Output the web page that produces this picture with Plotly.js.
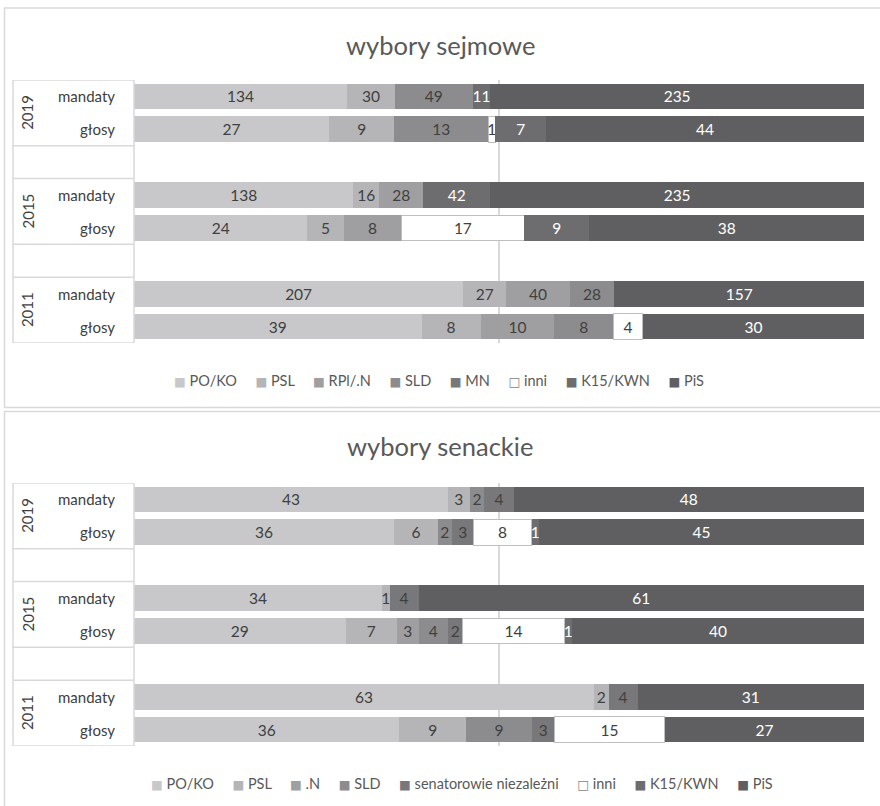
<!DOCTYPE html>
<html>
<head>
<meta charset="utf-8">
<script src="https://cdn.plot.ly/plotly-3.0.1.min.js"></script>
<style>
  html, body { margin: 0; padding: 0; background: #fff; }
  #chart { width: 880px; height: 806px; }
</style>
</head>
<body>
<div id="chart"></div>
<script>
// ---- DATA ----
const years = ['2019', '2015', '2011'];
const rowLabels = ['mandaty', 'głosy', '', 'mandaty', 'głosy', '', 'mandaty', 'głosy'];

// Sejm (wybory sejmowe)
const sejmSeries = ['PO/KO', 'PSL', 'RPl/.N', 'SLD', 'MN', 'inni', 'K15/KWN', 'PiS'];
const sejm_PO   = [134, 27, null, 138, 24, null, 207, 39];
const sejm_PSL  = [30, 9, null, 16, 5, null, 27, 8];
const sejm_RPl  = [null, null, null, 28, 8, null, 40, 10];
const sejm_SLD  = [49, 13, null, null, null, null, 28, 8];
const sejm_MN   = [null, null, null, null, null, null, null, null];
const sejm_inni = [null, 1, null, null, 17, null, null, 4];
const sejm_K15  = [11, 7, null, 42, 9, null, null, null];
const sejm_PiS  = [235, 44, null, 235, 38, null, 157, 30];

// Senat (wybory senackie)
const senatSeries = ['PO/KO', 'PSL', '.N', 'SLD', 'senatorowie niezależni', 'inni', 'K15/KWN', 'PiS'];
const senat_PO   = [43, 36, null, 34, 29, null, 63, 36];
const senat_PSL  = [3, 6, null, 1, 7, null, 2, 9];
const senat_N    = [null, null, null, null, 3, null, null, null];
const senat_SLD  = [2, 2, null, null, 4, null, null, 9];
const senat_niez = [4, 3, null, 4, 2, null, 4, 3];
const senat_inni = [null, 8, null, null, 14, null, null, 15];
const senat_K15  = [null, 1, null, null, 1, null, null, null];
const senat_PiS  = [48, 45, null, 61, 40, null, 31, 27];

// ---- STYLE ----
const fills = ['#c8c8ca', '#b5b5b7', '#9f9fa1', '#8c8c8e', '#78787a', '#ffffff', '#6d6d70', '#5f5f62'];
const textCols = ['#404040', '#404040', '#404040', '#404040', '#404040', '#404040', '#ffffff', '#ffffff'];
const FONT = 'Lato, "Open Sans", sans-serif';
const GRID = '#d9d9d9';

const rowIdx = rowLabels.map((_, i) => i);

function makeTraces(names, data, xa, ya) {
  return names.map((name, k) => ({
    type: 'bar',
    orientation: 'h',
    name: name,
    x: data[k],
    y: rowIdx,
    xaxis: xa,
    yaxis: ya,
    text: data[k].map(v => v == null ? '' : String(v)),
    textposition: 'inside',
    insidetextanchor: 'middle',
    constraintext: 'none',
    textangle: 0,
    textfont: { family: FONT, size: 15.5, color: textCols[k] },
    marker: {
      color: fills[k],
      line: { color: k === 5 ? '#bfbfbf' : fills[k], width: k === 5 ? 1 : 0 }
    },
    width: 0.78,
    showlegend: false,
    hoverinfo: 'skip'
  }));
}

const traces = [].concat(
  makeTraces(sejmSeries, [sejm_PO, sejm_PSL, sejm_RPl, sejm_SLD, sejm_MN, sejm_inni, sejm_K15, sejm_PiS], 'x', 'y'),
  makeTraces(senatSeries, [senat_PO, senat_PSL, senat_N, senat_SLD, senat_niez, senat_inni, senat_K15, senat_PiS], 'x2', 'y2')
);

// ---- LAYOUT ----
const W = 880, H = 806;
const px = v => v / W;          // x pixel -> paper
const py = v => 1 - v / H;      // y pixel -> paper

const xDom = [px(134), px(864)];
const topDom = [py(343), py(80)];
const botDom = [py(746), py(483)];

function xaxisDef(anchor) {
  return {
    domain: xDom, range: [0, 100], anchor: anchor,
    showgrid: true, gridcolor: GRID, gridwidth: 1.5, dtick: 50, tick0: 0,
    showticklabels: false, zeroline: false, showline: false, ticks: '', fixedrange: true
  };
}
function yaxisDef(dom, anchor) {
  return {
    domain: dom, range: [rowLabels.length - 0.5, -0.5], anchor: anchor,
    showgrid: false, showticklabels: false, zeroline: false, showline: false, ticks: '', fixedrange: true
  };
}

const shapes = [];
const annotations = [];

// panel frames
shapes.push({ type: 'rect', xref: 'paper', yref: 'paper', x0: px(4.5), x1: px(890), y0: py(407.5), y1: py(8),
  line: { color: GRID, width: 1.5 }, fillcolor: 'rgba(0,0,0,0)' });
shapes.push({ type: 'rect', xref: 'paper', yref: 'paper', x0: px(4.5), x1: px(890), y0: py(820), y1: py(411.5),
  line: { color: GRID, width: 1.5 }, fillcolor: 'rgba(0,0,0,0)' });

function categoryFrame(yr) {
  const boxL = px(13), boxR = px(134);
  const n = rowLabels.length;
  [boxL, boxR].forEach(xv => shapes.push({ type: 'line', xref: 'paper', yref: yr,
    x0: xv, x1: xv, y0: -0.5, y1: n - 0.5, line: { color: GRID, width: 1.5 } }));
  const seps = [-0.5];
  rowLabels.forEach((lab, i) => {
    if (lab === '') { seps.push(i - 0.5); seps.push(i + 0.5); }
  });
  seps.push(n - 0.5);
  seps.forEach(yv => shapes.push({ type: 'line', xref: 'paper', yref: yr,
    x0: boxL, x1: boxR, y0: yv, y1: yv, line: { color: GRID, width: 1.5 } }));
  rowLabels.forEach((lab, i) => {
    if (lab !== '') annotations.push({ xref: 'paper', yref: yr, x: px(117), y: i, text: lab,
      xanchor: 'right', yanchor: 'middle', showarrow: false,
      font: { family: FONT, size: 15, color: '#404040' } });
  });
  let g = 0;
  for (let i = 0; i < n; i += 3) {
    annotations.push({ xref: 'paper', yref: yr, x: px(27), y: i + 0.5, text: years[g++],
      textangle: -90, xanchor: 'center', yanchor: 'middle', showarrow: false,
      font: { family: FONT, size: 15, color: '#404040' } });
  }
}
categoryFrame('y');
categoryFrame('y2');

// titles
annotations.push({ xref: 'paper', yref: 'paper', x: 0.5, y: py(45), text: 'wybory sejmowe',
  showarrow: false, xanchor: 'center', yanchor: 'middle', font: { family: FONT, size: 25.5, color: '#595959' } });
annotations.push({ xref: 'paper', yref: 'paper', x: 0.5, y: py(446), text: 'wybory senackie',
  showarrow: false, xanchor: 'center', yanchor: 'middle', font: { family: FONT, size: 25.5, color: '#595959' } });

// legends
function legendText(names) {
  const gap = '\u00a0'.repeat(5);
  return names.map((nm, k) => {
    const sym = k === 5
      ? '<span style="color:#7f7f7f;font-family:\'DejaVu Sans\';font-size:12.5px">□</span>'
      : `<span style="color:${fills[k]};font-family:'DejaVu Sans';font-size:12.5px">■</span>`;
    return sym + '\u00a0' + nm;
  }).join(gap);
}
annotations.push({ xref: 'paper', yref: 'paper', x: px(439), y: py(380), text: legendText(sejmSeries),
  showarrow: false, xanchor: 'center', yanchor: 'middle', font: { family: FONT, size: 14.5, color: '#595959' } });
annotations.push({ xref: 'paper', yref: 'paper', x: px(462), y: py(783), text: legendText(senatSeries),
  showarrow: false, xanchor: 'center', yanchor: 'middle', font: { family: FONT, size: 14.5, color: '#595959' } });

const layout = {
  width: W, height: H,
  margin: { l: 0, r: 0, t: 0, b: 0 },
  paper_bgcolor: '#ffffff', plot_bgcolor: 'rgba(0,0,0,0)',
  barmode: 'stack', barnorm: 'percent',
  showlegend: false,
  font: { family: FONT, color: '#404040' },
  xaxis: xaxisDef('y'), yaxis: yaxisDef(topDom, 'x'),
  xaxis2: xaxisDef('y2'), yaxis2: yaxisDef(botDom, 'x2'),
  shapes: shapes,
  annotations: annotations
};

Plotly.newPlot('chart', traces, layout, { displayModeBar: false, staticPlot: true });
</script>
</body>
</html>
